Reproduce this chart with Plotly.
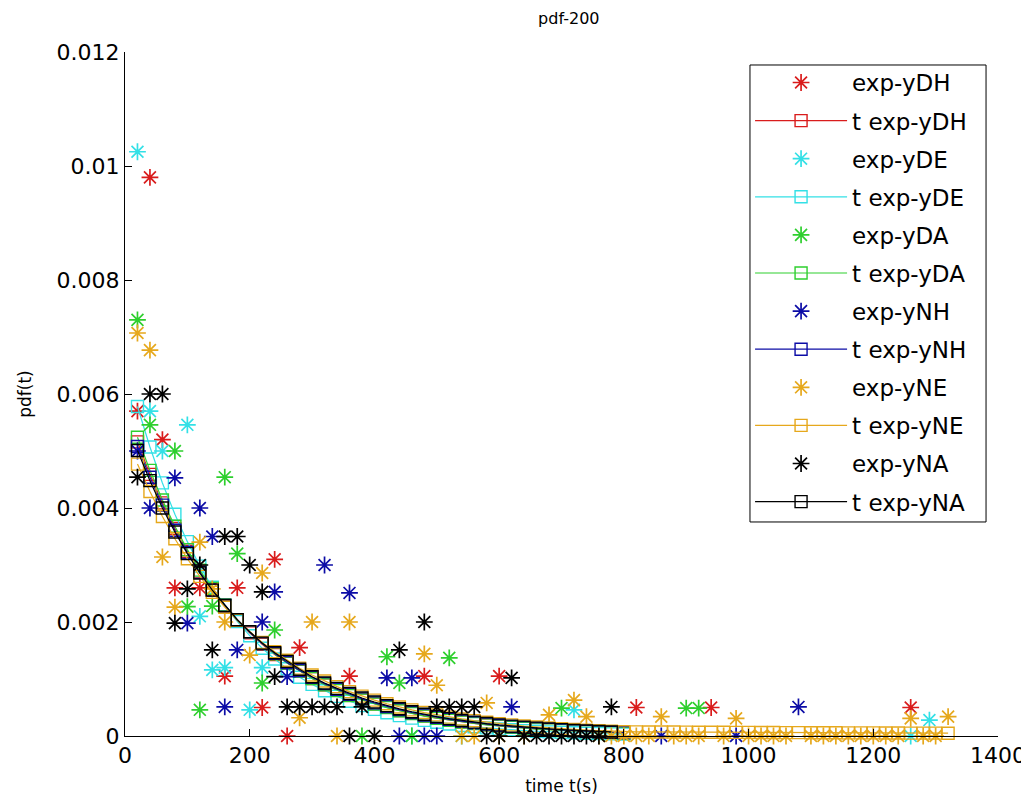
import plotly.graph_objects as go

# ---------------- data ----------------
COLORS = {
    "DH": "#d91c1c",
    "DE": "#33e0e6",
    "DA": "#2ecf2e",
    "NH": "#0c0ca6",
    "NE": "#e6a81c",
    "NA": "#000000",
}

# empirical pdf points (stars)
dh_t = [20, 40, 60, 80, 120, 160, 180, 220, 240, 260, 280, 360, 480, 600, 820, 940, 1260]
dh_p = [0.0057, 0.0098, 0.0052, 0.0026, 0.0026, 0.00105, 0.0026, 0.0005, 0.0031, 0.0, 0.00155,
        0.00105, 0.00105, 0.00105, 0.0005, 0.0005, 0.0005]

de_t = [20, 40, 60, 100, 120, 140, 160, 200, 220, 460, 540, 720, 1260, 1290]
de_p = [0.01025, 0.0057, 0.0050, 0.00546, 0.0021, 0.00116, 0.0012, 0.00046, 0.0012, 0.0, 0.0,
        0.00046, 0.0, 0.00028]

da_t = [20, 40, 80, 100, 120, 140, 160, 180, 220, 240, 380, 420, 440, 460, 520, 700, 900, 920]
da_p = [0.0073, 0.00546, 0.0050, 0.00227, 0.00046, 0.00228, 0.00454, 0.0032, 0.00093, 0.00186,
        0.0, 0.00139, 0.00093, 0.0, 0.00137, 0.00049, 0.00049, 0.00049]

nh_t = [20, 40, 80, 100, 120, 140, 160, 180, 220, 240, 260, 320, 360, 420, 440, 460, 480, 500,
        620, 860, 980, 1080]
nh_p = [0.0050, 0.0040, 0.00453, 0.00198, 0.0040, 0.0035, 0.00051, 0.00151, 0.0020, 0.00253,
        0.00104, 0.0030, 0.00251, 0.00102, 0.0, 0.00102, 0.0, 0.0, 0.00051, 0.0, 0.0, 0.00051]

ne_t = [20, 40, 60, 80, 120, 140, 160, 200, 220, 280, 300, 340, 360, 480, 500, 540, 560, 580,
        600, 640, 680, 720, 740, 760, 780, 800, 820, 840, 860, 880, 900, 920, 960, 980, 1000,
        1020, 1040, 1060, 1100, 1120, 1140, 1160, 1180, 1200, 1220, 1240, 1260, 1280, 1300, 1320]
ne_p = [0.00707, 0.00677, 0.00314, 0.00226, 0.0034, 0.00258, 0.0020, 0.00142, 0.00286, 0.00032,
        0.0020, 0.0, 0.0020, 0.00144, 0.00089, 0.0, 0.0, 0.00058, 0.0, 0.0, 0.00037, 0.00063,
        0.00034, 0.0, 0.0, 0.0, 0.0, 0.0, 0.00034, 0.0, 0.0, 0.0, 0.0, 0.00031, 0.0, 0.0, 0.0,
        0.0, 0.0, 0.0, 0.0, 0.0, 0.0, 0.0, 0.0, 0.0, 0.00031, 0.0, 0.0, 0.00034]

na_t = [20, 40, 60, 80, 100, 120, 140, 160, 180, 200, 220, 240, 260, 280, 300, 320, 340, 360,
        380, 400, 440, 480, 500, 520, 540, 560, 580, 600, 620, 640, 660, 680, 700, 720, 740, 760, 780]
na_p = [0.00454, 0.0060, 0.0060, 0.00198, 0.00258, 0.0030, 0.00151, 0.0035, 0.0035, 0.0030,
        0.00253, 0.00104, 0.00051, 0.00051, 0.00051, 0.00051, 0.00051, 0.0, 0.00051, 0.0,
        0.00151, 0.0020, 0.00051, 0.00051, 0.00051, 0.00051, 0.0, 0.0, 0.00102, 0.0, 0.0, 0.0,
        0.0, 0.0, 0.0, 0.0, 0.00051]

# fitted pdf curves (squares + line)
fit_t = [20, 40, 60, 80, 100, 120, 140, 160, 180, 200, 220, 240, 260, 280, 300, 320, 340, 360,
         380, 400, 420, 440, 460, 480, 500, 520, 540, 560, 580, 600, 620, 640, 660, 680, 700, 720,
         740, 760, 780, 800]
fit_t_long = fit_t + [820, 840, 860, 880, 900, 920, 940, 960, 980, 1000, 1020, 1040, 1060, 1080,
                      1100, 1120, 1140, 1160, 1180, 1200, 1220, 1240, 1260, 1280, 1300, 1320]

dh_fit = [0.00516, 0.00459, 0.00409, 0.00364, 0.00324, 0.00288, 0.00257, 0.00228, 0.00203, 0.00181,
          0.00161, 0.00143, 0.00128, 0.00114, 0.00101, 0.000900, 0.000800, 0.000713, 0.000635, 0.000565,
          0.000503, 0.000447, 0.000398, 0.000354, 0.000315, 0.000281, 0.000250, 0.000222, 0.000198, 0.000176,
          0.000157, 0.000140, 0.000124, 0.000111, 0.000098, 0.000088, 0.000078, 0.000069, 0.000062, 0.000055]
de_fit = [0.00578, 0.00507, 0.00444, 0.00389, 0.00341, 0.00298, 0.00261, 0.00229, 0.00201, 0.00176,
          0.00154, 0.00135, 0.00118, 0.00103, 0.000905, 0.000793, 0.000695, 0.000609, 0.000533, 0.000467,
          0.000409, 0.000358, 0.000314, 0.000275, 0.000241, 0.000211, 0.000185, 0.000162, 0.000142, 0.000124,
          0.000109, 0.000095, 0.000083, 0.000073, 0.000064, 0.000056, 0.000049, 0.000043, 0.000038, 0.000033]
da_fit = [0.00524, 0.00466, 0.00414, 0.00368, 0.00327, 0.00291, 0.00259, 0.00230, 0.00204, 0.00182,
          0.00162, 0.00144, 0.00128, 0.00114, 0.00101, 0.000898, 0.000798, 0.000710, 0.000631, 0.000561,
          0.000499, 0.000443, 0.000394, 0.000350, 0.000311, 0.000277, 0.000246, 0.000219, 0.000195, 0.000173,
          0.000154, 0.000137, 0.000122, 0.000108, 0.000096, 0.000085, 0.000076, 0.000068, 0.000060, 0.000053]
nh_fit = [0.00508, 0.00454, 0.00405, 0.00361, 0.00322, 0.00287, 0.00256, 0.00229, 0.00204, 0.00182,
          0.00162, 0.00145, 0.00129, 0.00115, 0.00103, 0.000918, 0.000819, 0.000730, 0.000651, 0.000581,
          0.000518, 0.000462, 0.000412, 0.000368, 0.000328, 0.000293, 0.000261, 0.000233, 0.000208, 0.000185,
          0.000165, 0.000147, 0.000132, 0.000117, 0.000105, 0.000093, 0.000083, 0.000074, 0.000066, 0.000059]
ne_fit = [0.00477, 0.00429, 0.00385, 0.00346, 0.00311, 0.00280, 0.00252, 0.00226, 0.00203, 0.00183,
          0.00164, 0.00148, 0.00133, 0.00119, 0.00107, 0.000964, 0.000867, 0.000779, 0.000700, 0.000630,
          0.000566, 0.000509, 0.000458, 0.000411, 0.000370, 0.000332, 0.000299, 0.000269, 0.000241, 0.000217,
          0.000195, 0.000175, 0.000158, 0.000142, 0.000127, 0.000115, 0.000103, 0.000093, 0.000083, 0.000075,
          0.000072, 0.000071, 0.000070, 0.000069, 0.000068, 0.000067, 0.000066, 0.000065, 0.000064, 0.000063,
          0.000062, 0.000061, 0.000060, 0.000059, 0.000058, 0.000057, 0.000056, 0.000055, 0.000055, 0.000054,
          0.000053, 0.000052, 0.000051, 0.000050, 0.000050, 0.000049]
na_fit = [0.00501, 0.00448, 0.00400, 0.00358, 0.00320, 0.00286, 0.00256, 0.00229, 0.00204, 0.00183,
          0.00163, 0.00146, 0.00131, 0.00117, 0.00104, 0.00093, 0.000835, 0.000746, 0.000667, 0.000596,
          0.000533, 0.000477, 0.000426, 0.000381, 0.000341, 0.000305, 0.000272, 0.000244, 0.000218, 0.000195,
          0.000174, 0.000155, 0.000139, 0.000124, 0.000111, 0.000099, 0.000089, 0.000079, 0.000071]

x_ticks = [0, 200, 400, 600, 800, 1000, 1200, 1400]
y_ticks = [0, 0.002, 0.004, 0.006, 0.008, 0.010, 0.012]
y_tick_text = ["0", "0.002", "0.004", "0.006", "0.008", "0.01", "0.012"]

series = [
    ("DH", dh_t, dh_p, fit_t, dh_fit),
    ("DE", de_t, de_p, fit_t, de_fit),
    ("DA", da_t, da_p, fit_t, da_fit),
    ("NH", nh_t, nh_p, fit_t, nh_fit),
    ("NE", ne_t, ne_p, fit_t_long, ne_fit),
    ("NA", na_t, na_p, fit_t[:39], na_fit),
]

FONT = "DejaVu Sans, Liberation Sans, Arial, sans-serif"

fig = go.Figure()
for key, et, ep, ft, fp in series:
    c = COLORS[key]
    fig.add_trace(go.Scatter(
        x=et, y=ep, mode="markers", name="exp-y" + key, legendgroup="e" + key,
        marker=dict(symbol="asterisk-open", size=14, color=c, line=dict(color=c, width=1.7)),
        cliponaxis=False,
    ))
    fig.add_trace(go.Scatter(
        x=ft, y=fp, mode="lines+markers", name="t exp-y" + key, legendgroup="t" + key,
        line=dict(color=c, width=1.2),
        marker=dict(symbol="square-open", size=12, color=c, line=dict(color=c, width=1.4)),
        cliponaxis=False,
    ))

# legend frame (paper coordinates)
fig.add_shape(type="rect", xref="paper", yref="paper", x0=0.7159, x1=0.9863, y0=0.3129, y1=0.981,
              line=dict(color="black", width=1), fillcolor="white", layer="above")

fig.update_layout(
    width=1029, height=811,
    margin=dict(l=117, r=39, t=44, b=83),
    paper_bgcolor="white", plot_bgcolor="white",
    font=dict(family=FONT, color="black", size=20),
    title=dict(text="pdf-200", x=0.545, xanchor="center", xref="container",
               y=0.9877, yanchor="middle", yref="container",
               font=dict(size=16, color="black", family=FONT)),
    showlegend=True,
    legend=dict(
        x=0.716, y=0.9868, xanchor="left", yanchor="top",
        bgcolor="rgba(255,255,255,0)", borderwidth=0,
        font=dict(size=23, family=FONT, color="black"),
        itemwidth=92, tracegroupgap=5.2,
    ),
)
fig.update_xaxes(
    range=[0, 1400], tickvals=x_ticks, showline=True, linecolor="black", linewidth=1,
    ticks="inside", ticklen=7, tickcolor="black", showgrid=False, zeroline=False,
    tickfont=dict(size=22, family=FONT),
    title=dict(text="time t(s)", font=dict(size=17, family=FONT), standoff=12),
)
fig.update_yaxes(
    range=[0, 0.012], tickvals=y_ticks, ticktext=y_tick_text, showline=True, linecolor="black",
    linewidth=1, ticks="inside", ticklen=7, tickcolor="black", showgrid=False, zeroline=False,
    tickfont=dict(size=22, family=FONT),
    title=dict(text="pdf(t)", font=dict(size=17, family=FONT), standoff=20),
)

fig.write_html("out.html")
